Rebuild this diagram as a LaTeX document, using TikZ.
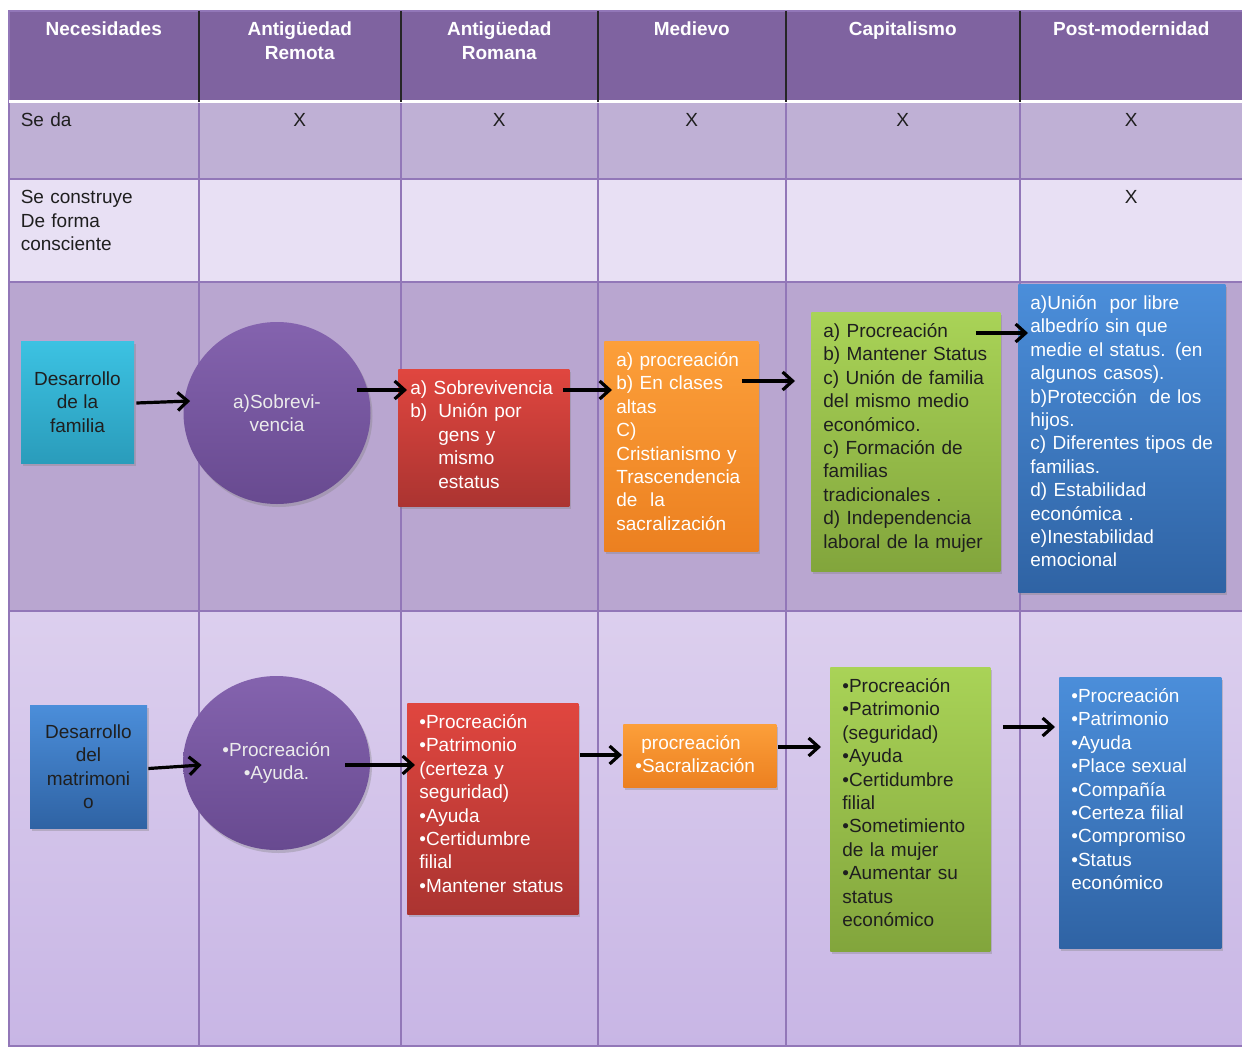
\documentclass[tikz,border=0pt]{standalone}
\usepackage{fontspec}
\setmainfont{Liberation Sans}
\usetikzlibrary{positioning,calc,matrix,shapes.geometric,shadows,arrows.meta}
\definecolor{cabecera}{HTML}{7F63A0}
\definecolor{filados}{HTML}{BFB0D5}
\definecolor{filatres}{HTML}{E8E0F4}
\definecolor{filacuatro}{HTML}{B9A6D0}
\definecolor{filacincoA}{HTML}{DCCFEE}
\definecolor{filacincoB}{HTML}{C8B6E5}
\definecolor{linea}{HTML}{9277B8}
\definecolor{oscuro}{HTML}{1F1F1F}
\definecolor{cianC}{HTML}{3CC2E2}
\definecolor{cianO}{HTML}{2A9CBB}
\definecolor{circC}{HTML}{8463AE}
\definecolor{circO}{HTML}{684A90}
\definecolor{rojoC}{HTML}{E0463F}
\definecolor{rojoO}{HTML}{AB3431}
\definecolor{naranjaC}{HTML}{FC9F3A}
\definecolor{naranjaO}{HTML}{EC8020}
\definecolor{verdeC}{HTML}{A9D357}
\definecolor{verdeO}{HTML}{82A53C}
\definecolor{azulC}{HTML}{4B8EDA}
\definecolor{azulO}{HTML}{2F63A4}
\tikzset{
tabla/.style={
  matrix of nodes,
  anchor=north west,
  inner sep=0pt,
  outer sep=0pt,
  row sep=-0.8pt,
  column sep=-0.8pt,
  nodes={rectangle,draw=linea,line width=0.8pt,inner xsep=6pt,inner ysep=3pt,
    text height=9.5pt,align=center,text=oscuro},
  nodes in empty cells,
  column 1/.style={nodes={text width=83pt,align=left}},
  column 2/.style={nodes={text width=89pt}},
  column 3/.style={nodes={text width=86.5pt}},
  column 4/.style={nodes={text width=82pt}},
  column 5/.style={nodes={text width=105pt}},
  column 6/.style={nodes={text width=99.5pt}},
  row 1/.style={nodes={fill=cabecera,text=white,font=\bfseries,text depth=30pt,align=center}},
  row 2/.style={nodes={fill=filados,text depth=23pt}},
  row 3/.style={nodes={fill=filatres,text depth=36pt}},
  row 4/.style={nodes={fill=filacuatro,text depth=149pt}},
  row 5/.style={nodes={top color=filacincoA,bottom color=filacincoB,text depth=202pt}}
  },
caja/.style={rectangle,anchor=north west,inner xsep=6pt,inner ysep=3pt,
  text height=9.5pt,align=left,
  drop shadow={shadow xshift=1pt,shadow yshift=-1.5pt,opacity=0.35}},
cajac/.style={rectangle,align=center,inner sep=2pt,
  drop shadow={shadow xshift=1pt,shadow yshift=-1.5pt,opacity=0.35}},
circulo/.style={ellipse,align=center,inner sep=0pt,text=white!92!black,
  top color=circC,bottom color=circO,
  drop shadow={shadow xshift=1pt,shadow yshift=-1.5pt,opacity=0.35}},
cian/.style={top color=cianC,bottom color=cianO,text=oscuro},
rojo/.style={top color=rojoC,bottom color=rojoO,text=white},
naranja/.style={top color=naranjaC,bottom color=naranjaO,text=white},
verde/.style={top color=verdeC,bottom color=verdeO,text=oscuro},
azul/.style={top color=azulC,bottom color=azulO,text=white},
flecha/.style={-{Straight Barb[length=5pt,width=9pt]},line width=1.6pt}
}
\begin{document}
\fontsize{9.5pt}{11.7pt}\selectfont
\begin{tikzpicture}[x=0.5pt,y=-0.5pt]
    \useasboundingbox (0,0) rectangle (1242,1049);
    \matrix [tabla] (t) at (8,10)
    {
        Necesidades & {Antigüedad\\Remota} & {Antigüedad\\Romana} & Medievo & Capitalismo & Post-modernidad \\
        Se da & X & X & X & X & X \\
        {Se construye\\De forma\\consciente} & & & & & X \\
        & & & & & \\
        & & & & & \\
    };
    \draw [white,line width=1.5pt] (t-2-1.north west) -- (t-2-6.north east);
    \foreach \c in {2,...,6}
        \draw [black!85,line width=0.8pt] (t-1-\c.north west) -- (t-1-\c.south west);

    % primera fila: familia
    \node [cajac,cian,minimum width=56.5pt,minimum height=61pt] (cianA) at (77.5,402) {Desarrollo\\de la\\familia};
    \node [circulo,minimum width=93.5pt,minimum height=91pt] (circA) at (277,413) {a)Sobrevi-\\vencia};
    \node [caja,rojo,text width=73.5pt,text depth=53pt] (rojoA) at (398,369)
        {a) Sobrevivencia\\\makebox[14pt][l]{b)}Unión por\\\hspace*{14pt}gens y\\\hspace*{14pt}mismo\\\hspace*{14pt}estatus};
    \node [caja,naranja,text width=65pt,text depth=89.5pt] (naranjaA) at (604,341)
        {a) procreación\\b) En clases\\altas\\C)\\Cristianismo y\\Trascendencia\\de~~la\\sacralización};
    \node [caja,verde,text width=82.5pt,text depth=114pt] (verdeA) at (811,312)
        {a) Procreación\\b) Mantener Status\\c) Unión de familia\\del mismo medio\\económico.\\c) Formación de\\familias\\tradicionales .\\d) Independencia\\laboral de la mujer};
    \node [caja,azul,text width=91.5pt,text depth=138.5pt] (azulA) at (1018,284)
        {a)Unión~~por libre\\albedrío sin que\\medie el status. (en\\algunos casos).\\b)Protección~~de los\\hijos.\\c) Diferentes tipos de\\familias.\\d) Estabilidad\\económica .\\e)Inestabilidad\\emocional};

    \draw [flecha] ($(cianA.east)+(2,1)$) -- ($(circA.west)+(7,-12)$);
    \draw [flecha] ($(circA.east)+(-14,-23)$) -- ($(rojoA.north west)+(9,21)$);
    \draw [flecha] ($(rojoA.north east)+(-7,21)$) -- ($(naranjaA.north west)+(8,49)$);
    \draw [flecha] ($(naranjaA.north east)+(-17,40)$) -- ($(verdeA.north west)+(-16,69)$);
    \draw [flecha] ($(verdeA.north east)+(-25,21)$) -- ($(azulA.north west)+(10,49)$);

    % segunda fila: matrimonio
    \node [cajac,azul,text=oscuro,minimum width=58.5pt,minimum height=61.5pt] (azulB) at (88.5,766.5) {Desarrollo\\del\\matrimoni\\o};
    \node [circulo,minimum width=93.5pt,minimum height=87pt] (circB) at (276.5,763) {•Procreación\\•Ayuda.};
    \node [caja,rojo,text width=73.5pt,text depth=90pt] (rojoB) at (407,703)
        {•Procreación\\•Patrimonio\\(certeza y\\seguridad)\\•Ayuda\\•Certidumbre\\filial\\•Mantener status};
    \node [caja,naranja,text width=64.5pt,text depth=16pt] (naranjaB) at (623,724)
        {\hspace*{3pt}procreación\\•Sacralización};
    \node [caja,verde,text width=68pt,text depth=126.5pt] (verdeB) at (830,667)
        {•Procreación\\•Patrimonio\\(seguridad)\\•Ayuda\\•Certidumbre\\filial\\•Sometimiento\\de la mujer\\•Aumentar su\\status\\económico};
    \node [caja,azul,text width=69pt,text depth=120pt] (azulC) at (1059,677)
        {•Procreación\\•Patrimonio\\•Ayuda\\•Place sexual\\•Compañía\\•Certeza filial\\•Compromiso\\•Status\\económico};

    \draw [flecha] ($(azulB.east)+(1,2)$) -- ($(circB.west)+(19,2)$);
    \draw [flecha] ($(circB.east)+(-25,2)$) -- ($(rojoB.north west)+(8,62)$);
    \draw [flecha] ($(rojoB.north east)+(1,52)$) -- ($(naranjaB.north west)+(-1,31)$);
    \draw [flecha] ($(naranjaB.north east)+(1,23)$) -- ($(verdeB.north west)+(-9,80)$);
    \draw [flecha] ($(verdeB.north east)+(12,60)$) -- ($(azulC.north west)+(-4,50)$);

\end{tikzpicture}
\end{document}
